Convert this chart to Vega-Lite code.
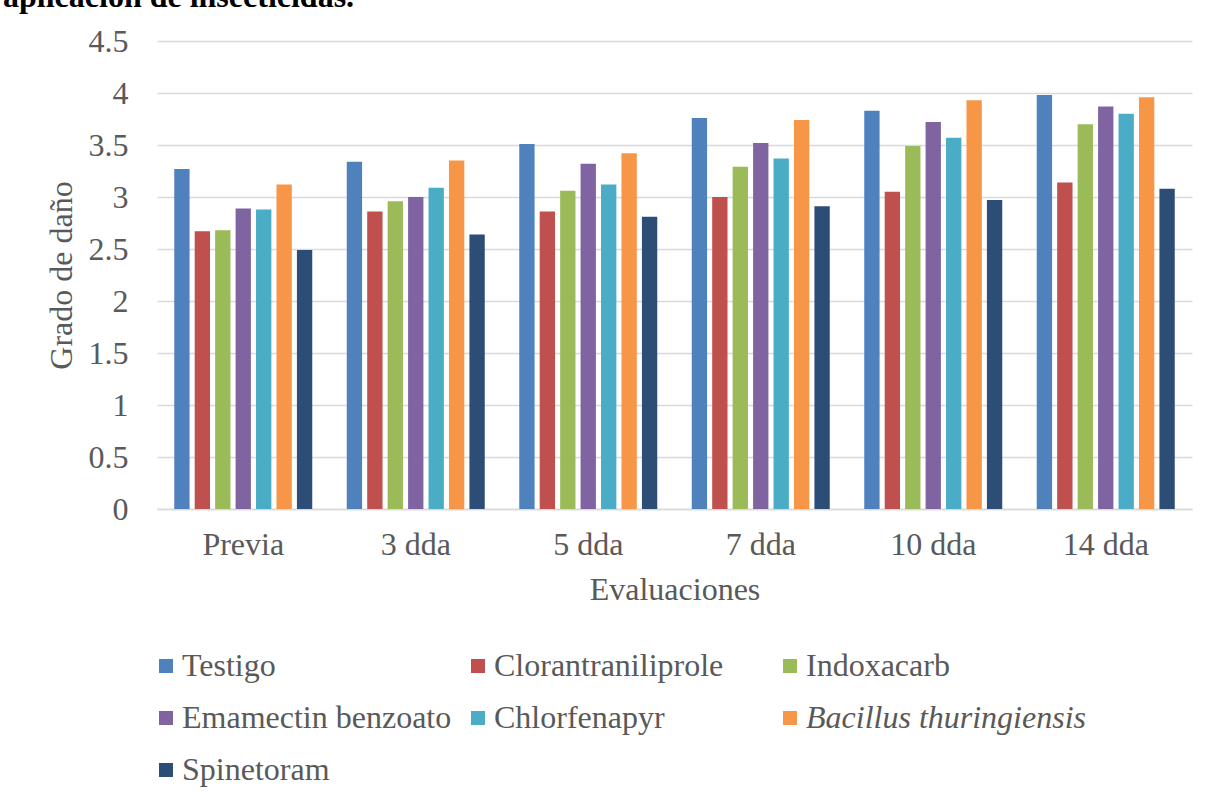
{
  "$schema": "https://vega.github.io/schema/vega-lite/v6.json",
  "autosize": {"type": "none"},
  "width": 1035,
  "height": 468,
  "padding": {"left": 157, "top": 41, "right": 21, "bottom": 292},
  "background": "white",
  "title": {
    "text": "aplicación de insecticidas.",
    "anchor": "start",
    "frame": "group",
    "orient": "top",
    "dx": -154,
    "offset": 0,
    "dy": 14,
    "baseline": "alphabetic",
    "font": "Liberation Serif",
    "fontSize": 32,
    "fontWeight": "bold",
    "color": "black"
  },
  "data": {
    "values": [
      {"evaluacion": "Previa", "tratamiento": "Testigo", "valor": 3.27},
      {"evaluacion": "Previa", "tratamiento": "Clorantraniliprole", "valor": 2.67},
      {"evaluacion": "Previa", "tratamiento": "Indoxacarb", "valor": 2.68},
      {"evaluacion": "Previa", "tratamiento": "Emamectin benzoato", "valor": 2.89},
      {"evaluacion": "Previa", "tratamiento": "Chlorfenapyr", "valor": 2.88},
      {"evaluacion": "Previa", "tratamiento": "Bacillus thuringiensis", "valor": 3.12},
      {"evaluacion": "Previa", "tratamiento": "Spinetoram", "valor": 2.49},
      {"evaluacion": "3 dda", "tratamiento": "Testigo", "valor": 3.34},
      {"evaluacion": "3 dda", "tratamiento": "Clorantraniliprole", "valor": 2.86},
      {"evaluacion": "3 dda", "tratamiento": "Indoxacarb", "valor": 2.96},
      {"evaluacion": "3 dda", "tratamiento": "Emamectin benzoato", "valor": 3.0},
      {"evaluacion": "3 dda", "tratamiento": "Chlorfenapyr", "valor": 3.09},
      {"evaluacion": "3 dda", "tratamiento": "Bacillus thuringiensis", "valor": 3.35},
      {"evaluacion": "3 dda", "tratamiento": "Spinetoram", "valor": 2.64},
      {"evaluacion": "5 dda", "tratamiento": "Testigo", "valor": 3.51},
      {"evaluacion": "5 dda", "tratamiento": "Clorantraniliprole", "valor": 2.86},
      {"evaluacion": "5 dda", "tratamiento": "Indoxacarb", "valor": 3.06},
      {"evaluacion": "5 dda", "tratamiento": "Emamectin benzoato", "valor": 3.32},
      {"evaluacion": "5 dda", "tratamiento": "Chlorfenapyr", "valor": 3.12},
      {"evaluacion": "5 dda", "tratamiento": "Bacillus thuringiensis", "valor": 3.42},
      {"evaluacion": "5 dda", "tratamiento": "Spinetoram", "valor": 2.81},
      {"evaluacion": "7 dda", "tratamiento": "Testigo", "valor": 3.76},
      {"evaluacion": "7 dda", "tratamiento": "Clorantraniliprole", "valor": 3.0},
      {"evaluacion": "7 dda", "tratamiento": "Indoxacarb", "valor": 3.29},
      {"evaluacion": "7 dda", "tratamiento": "Emamectin benzoato", "valor": 3.52},
      {"evaluacion": "7 dda", "tratamiento": "Chlorfenapyr", "valor": 3.37},
      {"evaluacion": "7 dda", "tratamiento": "Bacillus thuringiensis", "valor": 3.74},
      {"evaluacion": "7 dda", "tratamiento": "Spinetoram", "valor": 2.91},
      {"evaluacion": "10 dda", "tratamiento": "Testigo", "valor": 3.83},
      {"evaluacion": "10 dda", "tratamiento": "Clorantraniliprole", "valor": 3.05},
      {"evaluacion": "10 dda", "tratamiento": "Indoxacarb", "valor": 3.49},
      {"evaluacion": "10 dda", "tratamiento": "Emamectin benzoato", "valor": 3.72},
      {"evaluacion": "10 dda", "tratamiento": "Chlorfenapyr", "valor": 3.57},
      {"evaluacion": "10 dda", "tratamiento": "Bacillus thuringiensis", "valor": 3.93},
      {"evaluacion": "10 dda", "tratamiento": "Spinetoram", "valor": 2.97},
      {"evaluacion": "14 dda", "tratamiento": "Testigo", "valor": 3.98},
      {"evaluacion": "14 dda", "tratamiento": "Clorantraniliprole", "valor": 3.14},
      {"evaluacion": "14 dda", "tratamiento": "Indoxacarb", "valor": 3.7},
      {"evaluacion": "14 dda", "tratamiento": "Emamectin benzoato", "valor": 3.87},
      {"evaluacion": "14 dda", "tratamiento": "Chlorfenapyr", "valor": 3.8},
      {"evaluacion": "14 dda", "tratamiento": "Bacillus thuringiensis", "valor": 3.96},
      {"evaluacion": "14 dda", "tratamiento": "Spinetoram", "valor": 3.08}
    ]
  },
  "mark": {"type": "bar"},
  "encoding": {
    "x": {
      "field": "evaluacion",
      "type": "nominal",
      "sort": ["Previa", "3 dda", "5 dda", "7 dda", "10 dda", "14 dda"],
      "scale": {"paddingInner": 0.2, "paddingOuter": 0.1},
      "axis": {
        "title": "Evaluaciones",
        "labelAngle": 0,
        "labelPadding": 20,
        "ticks": false,
        "domainColor": "#d9d9d9",
        "domainWidth": 1.5,
        "titlePadding": 14
      }
    },
    "xOffset": {
      "field": "tratamiento",
      "type": "nominal",
      "sort": ["Testigo", "Clorantraniliprole", "Indoxacarb", "Emamectin benzoato", "Chlorfenapyr", "Bacillus thuringiensis", "Spinetoram"],
      "scale": {"paddingInner": 0.25, "paddingOuter": 0}
    },
    "y": {
      "field": "valor",
      "type": "quantitative",
      "scale": {"domain": [0, 4.5], "nice": false},
      "axis": {
        "title": "Grado de daño",
        "values": [0, 0.5, 1, 1.5, 2, 2.5, 3, 3.5, 4, 4.5],
        "labelExpr": "'' + datum.value",
        "ticks": false,
        "domain": false,
        "labelPadding": 29,
        "titlePadding": 10,
        "gridColor": "#d9d9d9",
        "gridWidth": 1.5
      }
    },
    "color": {
      "field": "tratamiento",
      "type": "nominal",
      "sort": ["Testigo", "Clorantraniliprole", "Indoxacarb", "Emamectin benzoato", "Chlorfenapyr", "Bacillus thuringiensis", "Spinetoram"],
      "scale": {
        "domain": ["Testigo", "Clorantraniliprole", "Indoxacarb", "Emamectin benzoato", "Chlorfenapyr", "Bacillus thuringiensis", "Spinetoram"],
        "range": ["#4F81BD", "#C0504D", "#9BBB59", "#8064A2", "#4BACC6", "#F79646", "#2C4D75"]
      },
      "legend": {
        "title": null,
        "orient": "none",
        "direction": "horizontal",
        "legendX": -7,
        "legendY": 609,
        "padding": 0,
        "columns": 3,
        "gridAlign": "all",
        "columnPadding": -9,
        "rowPadding": 20,
        "symbolType": "square",
        "symbolSize": 196,
        "symbolStrokeWidth": 0,
        "labelOffset": 0,
        "labelLimit": 400,
        "encode": {
          "labels": {
            "update": {
              "fontStyle": {"signal": "datum.value === 'Bacillus thuringiensis' ? 'italic' : 'normal'"}
            }
          }
        }
      }
    }
  },
  "config": {
    "view": {"stroke": null},
    "font": "Liberation Serif",
    "axis": {
      "labelFont": "Liberation Serif",
      "labelFontSize": 32,
      "labelColor": "#595959",
      "titleFont": "Liberation Serif",
      "titleFontSize": 32,
      "titleFontWeight": "normal",
      "titleColor": "#595959"
    },
    "legend": {
      "labelFont": "Liberation Serif",
      "labelFontSize": 32,
      "labelColor": "#595959"
    }
  }
}
